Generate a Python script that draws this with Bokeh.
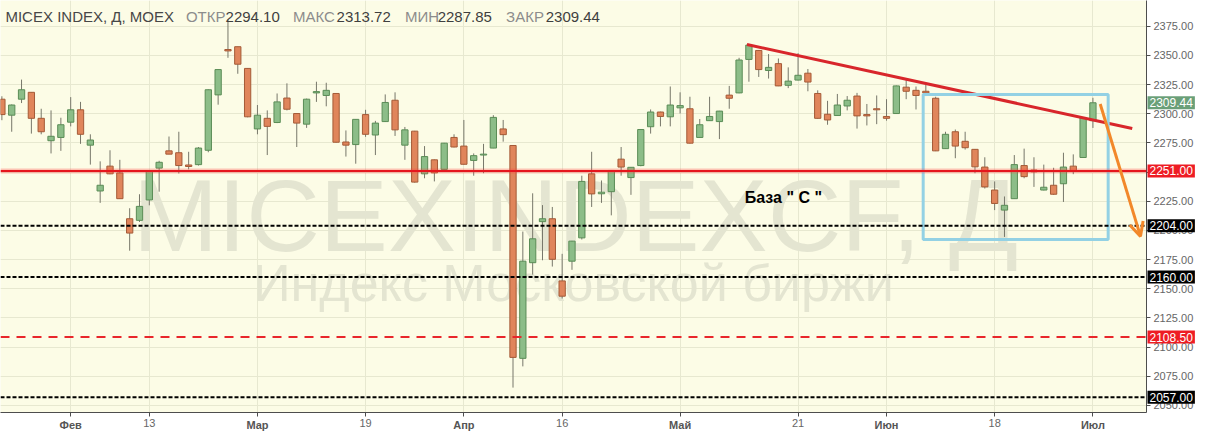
from bokeh.plotting import figure
from bokeh.models import Span, Label, Arrow, OpenHead, FixedTicker, Range1d, PrintfTickFormatter
from bokeh.embed import file_html
from bokeh.resources import INLINE

# ---------------- data ----------------
opens = [2312.5, 2298.8, 2312.5, 2318.4, 2296.1, 2276.9, 2279.7, 2292.8, 2303.4, 2273.1,
         2233.8, 2255.1, 2249.3, 2210.0, 2208.6, 2226.1, 2253.4, 2268.2, 2266.6, 2256.1,
         2256.4, 2268.7, 2316.2, 2355.1, 2357.5, 2338.9, 2287.0, 2296.1, 2292.5, 2313.5,
         2300.2, 2291.1, 2317.9, 2315.7, 2317.4, 2275.8, 2273.6, 2299.3, 2281.8, 2293.3,
         2311.6, 2273.1, 2285.1, 2248.5, 2260.5, 2252.3, 2279.7, 2272.3, 2260.0, 2264.6,
         2270.6, 2287.0, 2272.8, 2090.3, 2172.3, 2207.5, 2210.0, 2156.7, 2173.6, 2193.6,
         2248.5, 2231.4, 2233.2, 2261.1, 2245.3, 2255.6, 2288.9, 2301.5, 2297.4, 2305.1,
         2304.3, 2279.7, 2294.1, 2293.3, 2316.0, 2317.9, 2346.6, 2354.3, 2337.1, 2343.0,
         2324.4, 2328.9, 2334.8, 2317.4, 2299.6, 2298.5, 2306.7, 2315.2, 2299.3, 2304.3,
         2297.7, 2300.2, 2322.8, 2320.1, 2319.3, 2313.3, 2270.1, 2284.6, 2276.4, 2269.5,
         2254.3, 2234.6, 2217.4, 2227.2, 2255.6, 2251.8, 2234.6, 2238.7, 2240.0, 2255.1,
         2262.5, 2294.10]
highs = [2315.0, 2308.0, 2329.3, 2318.4, 2304.3, 2302.9, 2296.6, 2314.3, 2310.2, 2282.4,
         2259.2, 2268.7, 2260.5, 2219.0, 2231.0, 2251.0, 2259.7, 2280.5, 2284.6, 2267.4,
         2271.5, 2320.9, 2338.2, 2380.7, 2357.5, 2339.0, 2307.5, 2302.9, 2317.4, 2326.1,
         2300.5, 2313.0, 2327.5, 2326.6, 2317.5, 2285.7, 2295.5, 2303.4, 2293.9, 2316.6,
         2318.4, 2288.7, 2285.3, 2272.3, 2260.8, 2275.0, 2282.4, 2294.7, 2266.0, 2274.2,
         2298.8, 2294.7, 2273.0, 2199.0, 2231.8, 2221.7, 2220.1, 2179.9, 2191.0, 2246.9,
         2267.4, 2242.8, 2251.6, 2271.5, 2254.3, 2286.8, 2303.7, 2301.8, 2323.4, 2318.4,
         2314.6, 2295.5, 2314.6, 2302.5, 2323.9, 2348.0, 2359.2, 2354.5, 2351.2, 2347.4,
         2339.8, 2352.0, 2338.4, 2320.1, 2311.1, 2317.0, 2315.2, 2317.9, 2308.4, 2315.7,
         2312.5, 2324.2, 2328.9, 2323.4, 2324.8, 2314.6, 2284.6, 2286.5, 2284.6, 2269.8,
         2262.7, 2242.0, 2229.1, 2264.6, 2270.1, 2262.7, 2256.4, 2253.7, 2266.6, 2265.2,
         2296.8, 2313.72]
lows = [2294.5, 2284.6, 2309.2, 2283.0, 2282.4, 2266.0, 2268.2, 2289.2, 2274.2, 2256.4,
        2223.6, 2248.2, 2227.2, 2182.6, 2207.2, 2221.5, 2233.2, 2265.4, 2248.8, 2252.3,
        2255.6, 2267.0, 2307.8, 2348.0, 2334.3, 2297.0, 2282.4, 2264.6, 2292.0, 2302.9,
        2271.5, 2287.9, 2310.2, 2306.4, 2275.3, 2263.3, 2257.2, 2280.2, 2264.6, 2293.0,
        2281.0, 2260.5, 2241.0, 2244.7, 2242.0, 2252.0, 2271.2, 2256.5, 2246.9, 2249.0,
        2270.5, 2276.1, 2065.2, 2083.4, 2162.1, 2174.4, 2169.0, 2141.6, 2166.2, 2192.2,
        2220.1, 2223.6, 2212.9, 2246.9, 2230.5, 2255.0, 2283.0, 2289.2, 2289.2, 2300.2,
        2274.5, 2279.5, 2293.8, 2278.3, 2304.3, 2317.6, 2327.5, 2331.6, 2330.2, 2323.7,
        2322.0, 2328.6, 2319.3, 2295.8, 2290.6, 2298.3, 2302.9, 2287.3, 2290.0, 2291.1,
        2294.1, 2299.9, 2312.5, 2303.7, 2315.2, 2268.0, 2269.8, 2261.9, 2269.3, 2249.0,
        2235.9, 2217.4, 2194.4, 2227.0, 2244.7, 2237.3, 2234.3, 2230.5, 2224.4, 2248.2,
        2262.3, 2287.85]
closes = [2299.3, 2307.5, 2320.6, 2296.1, 2284.6, 2280.7, 2290.6, 2303.4, 2282.4, 2277.5,
          2238.7, 2248.5, 2227.2, 2197.7, 2220.6, 2251.0, 2258.4, 2265.4, 2255.6, 2254.8,
          2270.6, 2320.6, 2337.9, 2353.9, 2342.5, 2297.4, 2298.8, 2289.2, 2310.2, 2303.9,
          2292.0, 2312.5, 2319.0, 2320.1, 2275.6, 2273.1, 2295.2, 2282.4, 2292.0, 2309.7,
          2286.2, 2286.2, 2241.4, 2263.3, 2249.3, 2274.8, 2271.5, 2256.7, 2264.1, 2265.4,
          2296.9, 2282.1, 2091.1, 2173.6, 2192.8, 2210.0, 2175.2, 2143.6, 2190.8, 2242.0,
          2231.3, 2232.8, 2251.4, 2254.3, 2254.1, 2286.5, 2301.5, 2297.7, 2307.5, 2307.0,
          2274.8, 2290.6, 2297.7, 2302.3, 2313.3, 2346.1, 2358.9, 2337.9, 2339.8, 2323.9,
          2328.0, 2333.0, 2327.2, 2296.1, 2294.7, 2307.5, 2311.6, 2298.2, 2298.2, 2303.4,
          2296.1, 2323.9, 2319.3, 2315.7, 2317.9, 2268.2, 2282.4, 2272.3, 2270.9, 2254.5,
          2237.3, 2223.1, 2221.5, 2256.4, 2246.1, 2250.2, 2237.0, 2231.0, 2254.3, 2251.0,
          2296.6, 2309.44]

tick_index = [7, 15, 26, 37, 47, 57, 69, 81, 90, 101, 111]
tick_text = ["Фев", "13", "Мар", "19", "Апр", "16", "Май", "21", "Июн", "18", "Июл"]
month_names = ["Фев", "Мар", "Апр", "Май", "Июн", "Июл"]

y_ticks = [2050, 2075, 2100, 2125, 2150, 2175, 2200, 2225, 2250, 2275, 2300, 2325, 2350, 2375]

level_red = 2251.0
level_red_dash = 2108.5
levels_black = [2204.0, 2160.0, 2057.0]
last_close = 2309.44

trend_x = [75.8, 115.0]
trend_y = [2359.4, 2287.3]
box_left, box_right, box_top, box_bottom = 93.73, 112.55, 2316.6, 2192.2
arrow_start = (111.74, 2308.4)
arrow_end = (115.84, 2194.9)

header = [("MICEX INDEX, Д, MOEX", "title"), ("ОТКР", "key"), ("2294.10", "val"),
          ("МАКС", "key"), ("2313.72", "val"), ("МИН", "key"), ("2287.85", "val"),
          ("ЗАКР", "key"), ("2309.44", "val")]
header_px = [5, 187, 227, 295, 339, 408, 441, 510, 550]

# ---------------- layout helpers (reference pixel -> data, for annotation placement) ----
PX0, PXSTEP = 1.4, 9.915
Y0PX, YREF, YSCALE = 27.0, 2375.0, 1.22


def px2x(px):
    return (px - PX0) / PXSTEP


def py2y(py):
    return YREF - (py - Y0PX) / YSCALE


FRAME_W, FRAME_H = 1146, 412
x_start, x_end = px2x(0), px2x(1156)
y_end, y_start = py2y(0), py2y(431)
ux = FRAME_W / (x_end - x_start)   # px per x unit
uy = FRAME_H / (y_end - y_start)   # px per y unit

FONT = "Liberation Sans"

p = figure(frame_width=FRAME_W, frame_height=FRAME_H,
           x_range=Range1d(x_start, x_end), y_range=Range1d(y_start, y_end),
           output_backend="svg", toolbar_location=None, y_axis_location="right",
           background_fill_color="#fcfce6", border_fill_color="white",
           outline_line_color=None, min_border_left=0, min_border_top=0,
           min_border_bottom=0, min_border_right=48)

# axes
p.xaxis.ticker = FixedTicker(ticks=tick_index)
p.xaxis.major_label_overrides = {i: ("" if t in month_names else t) for i, t in zip(tick_index, tick_text)}
p.yaxis.ticker = FixedTicker(ticks=y_ticks)
p.yaxis.formatter = PrintfTickFormatter(format="%.2f")
for ax in (p.xaxis[0], p.yaxis[0]):
    ax.axis_line_color = "#4d4d4d"
    ax.major_tick_line_color = "#4d4d4d"
    ax.minor_tick_line_color = None
    ax.major_tick_in = 0
    ax.major_tick_out = 4
    ax.major_label_text_font = FONT
    ax.major_label_text_font_size = "11px"
    ax.major_label_text_color = "#666666"
p.xaxis.major_label_standoff = 2
p.yaxis.major_label_standoff = 3
p.xgrid.grid_line_color = "#e7e8d0"
p.ygrid.grid_line_color = "#e7e8d0"

# watermark
p.add_layout(Label(x=px2x(580), y=py2y(225), text="MICEXINDEXCF, Д", text_align="center",
                   text_baseline="alphabetic", text_font=FONT, text_font_size="102px",
                   text_color="#e4e5d1", level="underlay"))
p.add_layout(Label(x=px2x(578), y=py2y(296), text="Индекс Московской биржи", text_align="center",
                   text_baseline="alphabetic", text_font=FONT, text_font_size="52px",
                   text_color="#e4e5d1", level="underlay"))

# candles
xs = list(range(len(opens)))
p.segment(x0=xs, y0=highs, x1=xs, y1=lows, line_color="#77776a", line_width=1)
inc = [i for i in xs if closes[i] >= opens[i]]
dec = [i for i in xs if closes[i] < opens[i]]
p.vbar(x=inc, width=0.64, top=[closes[i] for i in inc], bottom=[opens[i] for i in inc],
       fill_color="#8cbd88", line_color="#5a8c56", line_width=1)
p.vbar(x=dec, width=0.64, top=[opens[i] for i in dec], bottom=[closes[i] for i in dec],
       fill_color="#e0855b", line_color="#a45a37", line_width=1)

# levels
p.add_layout(Span(location=level_red, dimension="width", line_color="#ff4040", line_alpha=0.3, line_width=5))
p.add_layout(Span(location=level_red, dimension="width", line_color="#e5161d", line_width=2))
for lv in levels_black:
    p.add_layout(Span(location=lv, dimension="width", line_color="black", line_width=2, line_dash="4 2"))
p.add_layout(Span(location=level_red_dash, dimension="width", line_color="#e8262b", line_width=2, line_dash="9 7"))

# trendline, box, arrow
p.line(x=trend_x, y=trend_y, line_color="#d8262b", line_width=3)
p.quad(left=[box_left], right=[box_right], top=[box_top], bottom=[box_bottom],
       fill_alpha=0, line_color="#93d1e4", line_width=3)
p.add_layout(Arrow(end=OpenHead(size=14, line_color="#f2882a", line_width=3),
                   x_start=arrow_start[0], y_start=arrow_start[1],
                   x_end=arrow_end[0], y_end=arrow_end[1],
                   line_color="#f2882a", line_width=3))

p.add_layout(Label(x=px2x(792), y=py2y(206), text='База  " С "', text_align="center",
                   text_baseline="middle", text_font=FONT, text_font_size="16px",
                   text_font_style="bold", text_color="black"))

# header
colors = {"title": "#474747", "key": "#8c8c8c", "val": "#3f3f3f"}
for (txt, kind), px in zip(header, header_px):
    p.add_layout(Label(x=px2x(px), y=py2y(17), text=txt, text_align="left", text_baseline="middle",
                       text_font=FONT, text_font_size="15px", text_color=colors[kind]))

# month labels (bold), placed in the bottom panel so they are not clipped
for i, t in zip(tick_index, tick_text):
    if t in month_names:
        p.add_layout(Label(x=i, y=y_start - 6.5 / uy, text=t, text_align="center", text_baseline="top",
                           text_font=FONT, text_font_size="11px", text_font_style="bold",
                           text_color="#555555"), "below")

# price boxes on the right axis
boxes = [(last_close, "#6a9f78"), (level_red, "#ee1c24"), (levels_black[0], "black"),
         (levels_black[1], "black"), (level_red_dash, "#ee1c24"), (levels_black[2], "black")]
for val, col in boxes:
    p.add_layout(Label(x=x_end + 1.0 / ux, y=val, text="%.2f" % val, text_align="left",
                       text_baseline="middle", text_font=FONT, text_font_size="12px",
                       text_color="white", background_fill_color=col, padding=2), "right")

open("out.html", "w").write(file_html(p, INLINE))
